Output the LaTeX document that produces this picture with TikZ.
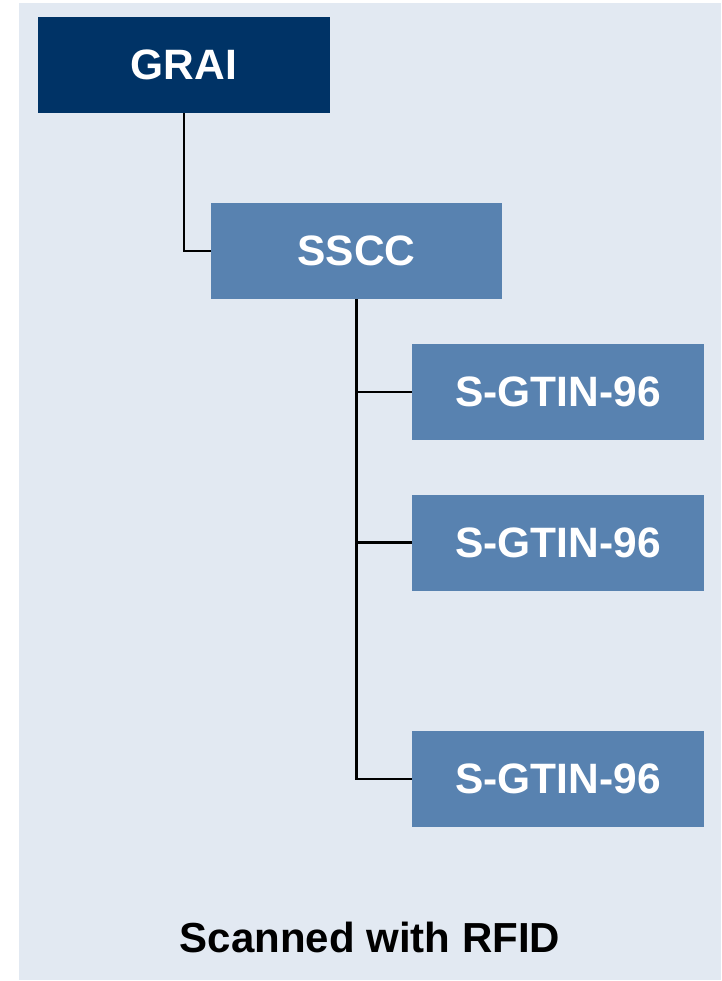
\documentclass[tikz,border=0pt]{standalone}
\usepackage{fontspec}
\setmainfont{Liberation Sans}
\definecolor{bgc}{HTML}{E2E9F2}
\definecolor{navy}{HTML}{003366}
\definecolor{midblue}{HTML}{5882B0}
\begin{document}
\begin{tikzpicture}[x=1pt,y=1pt,
  box/.style={rectangle, inner sep=0pt, minimum width=292pt, minimum height=96pt,
    text=white, font=\fontsize{42.5pt}{50pt}\selectfont\bfseries},
  link/.style={draw=black, line width=2.4pt}]
\useasboundingbox (0,0) rectangle (721,-981);
\fill[bgc] (19,-3) rectangle (721,-980);
\node[box, fill=navy] (grai) at (184,-65) {GRAI};
\node[box, fill=midblue, minimum width=291pt] (sscc) at (356.5,-251) {SSCC};
\node[box, fill=midblue] (g1) at (558,-392) {S-GTIN-96};
\node[box, fill=midblue] (g2) at (558,-542.5) {S-GTIN-96};
\node[box, fill=midblue] (g3) at (558,-779) {S-GTIN-96};
\node[font=\fontsize{42pt}{50pt}\selectfont\bfseries, text=black] (lbl) at (370,-937) {Scanned with RFID};
\draw[link] (grai.south) |- (sscc.west);
\draw[link] (sscc.south) |- (g1.west);
\draw[link] (sscc.south) |- (g2.west);
\draw[link] (sscc.south) |- (g3.west);
\end{tikzpicture}
\end{document}
